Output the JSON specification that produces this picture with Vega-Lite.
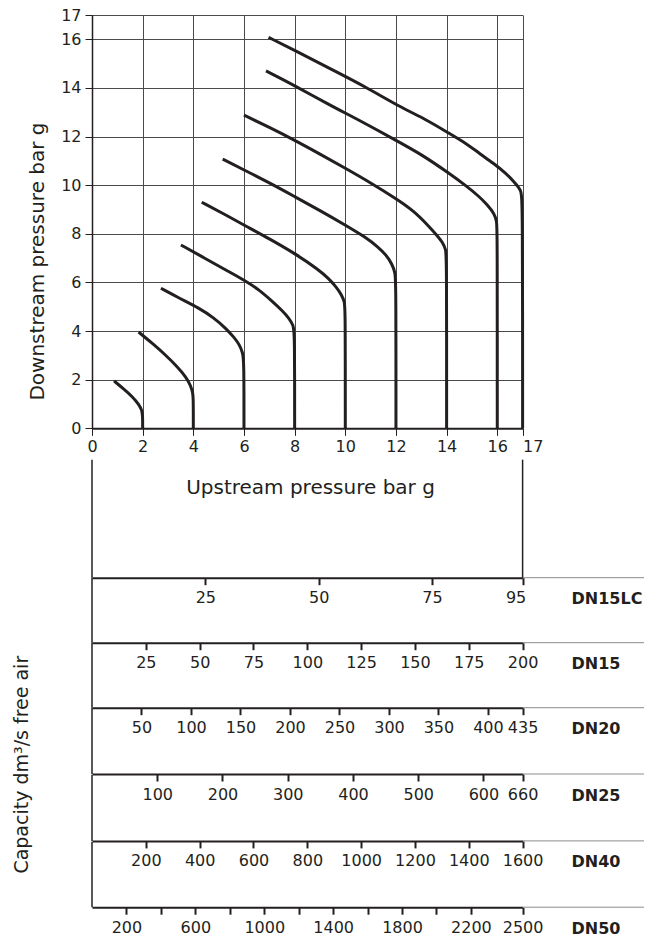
{
  "$schema": "https://vega.github.io/schema/vega-lite/v6.json",
  "padding": {"left": 13, "top": 7, "right": 5, "bottom": 5},
  "background": "white",
  "datasets": {
    "curves": [
      {"curve": 2, "up": 0.87, "down": 1.95}, {"curve": 2, "up": 1.25, "down": 1.62}, {"curve": 2, "up": 1.6, "down": 1.3}, {"curve": 2, "up": 1.85, "down": 0.98}, {"curve": 2, "up": 1.97, "down": 0.75}, {"curve": 2, "up": 2, "down": 0.5}, {"curve": 2, "up": 2, "down": 0},
      {"curve": 4, "up": 1.84, "down": 3.96}, {"curve": 4, "up": 2.4, "down": 3.48}, {"curve": 4, "up": 2.92, "down": 3.0}, {"curve": 4, "up": 3.35, "down": 2.55}, {"curve": 4, "up": 3.71, "down": 2.12}, {"curve": 4, "up": 3.9, "down": 1.75}, {"curve": 4, "up": 3.98, "down": 1.45}, {"curve": 4, "up": 4, "down": 1.2}, {"curve": 4, "up": 4, "down": 0},
      {"curve": 6, "up": 2.72, "down": 5.76}, {"curve": 6, "up": 3.45, "down": 5.35}, {"curve": 6, "up": 4.24, "down": 4.94}, {"curve": 6, "up": 4.8, "down": 4.55}, {"curve": 6, "up": 5.29, "down": 4.11}, {"curve": 6, "up": 5.6, "down": 3.75}, {"curve": 6, "up": 5.82, "down": 3.45}, {"curve": 6, "up": 5.95, "down": 3.1}, {"curve": 6, "up": 6, "down": 2.8}, {"curve": 6, "up": 6, "down": 0},
      {"curve": 8, "up": 3.51, "down": 7.54}, {"curve": 8, "up": 4.5, "down": 6.97}, {"curve": 8, "up": 5.3, "down": 6.5}, {"curve": 8, "up": 6, "down": 6.1}, {"curve": 8, "up": 6.6, "down": 5.7}, {"curve": 8, "up": 7.13, "down": 5.21}, {"curve": 8, "up": 7.5, "down": 4.85}, {"curve": 8, "up": 7.79, "down": 4.52}, {"curve": 8, "up": 7.95, "down": 4.22}, {"curve": 8, "up": 8, "down": 3.95}, {"curve": 8, "up": 8, "down": 0},
      {"curve": 10, "up": 4.33, "down": 9.3}, {"curve": 10, "up": 5.2, "down": 8.82}, {"curve": 10, "up": 6, "down": 8.36}, {"curve": 10, "up": 7, "down": 7.8}, {"curve": 10, "up": 8, "down": 7.2}, {"curve": 10, "up": 8.97, "down": 6.51}, {"curve": 10, "up": 9.35, "down": 6.15}, {"curve": 10, "up": 9.63, "down": 5.83}, {"curve": 10, "up": 9.85, "down": 5.5}, {"curve": 10, "up": 9.97, "down": 5.2}, {"curve": 10, "up": 10, "down": 4.9}, {"curve": 10, "up": 10, "down": 0},
      {"curve": 12, "up": 5.16, "down": 11.07}, {"curve": 12, "up": 6, "down": 10.63}, {"curve": 12, "up": 7, "down": 10.1}, {"curve": 12, "up": 8, "down": 9.53}, {"curve": 12, "up": 9, "down": 8.96}, {"curve": 12, "up": 10, "down": 8.36}, {"curve": 12, "up": 10.82, "down": 7.85}, {"curve": 12, "up": 11.3, "down": 7.45}, {"curve": 12, "up": 11.6, "down": 7.15}, {"curve": 12, "up": 11.85, "down": 6.75}, {"curve": 12, "up": 11.97, "down": 6.4}, {"curve": 12, "up": 12, "down": 6.0}, {"curve": 12, "up": 12, "down": 0},
      {"curve": 14, "up": 6.0, "down": 12.88}, {"curve": 14, "up": 7, "down": 12.38}, {"curve": 14, "up": 8, "down": 11.85}, {"curve": 14, "up": 9, "down": 11.28}, {"curve": 14, "up": 10, "down": 10.7}, {"curve": 14, "up": 11, "down": 10.1}, {"curve": 14, "up": 12, "down": 9.45}, {"curve": 14, "up": 12.7, "down": 8.95}, {"curve": 14, "up": 13.32, "down": 8.29}, {"curve": 14, "up": 13.65, "down": 7.9}, {"curve": 14, "up": 13.84, "down": 7.65}, {"curve": 14, "up": 13.97, "down": 7.35}, {"curve": 14, "up": 14, "down": 7.05}, {"curve": 14, "up": 14, "down": 0},
      {"curve": 16, "up": 6.87, "down": 14.7}, {"curve": 16, "up": 8, "down": 14.1}, {"curve": 16, "up": 9.37, "down": 13.3}, {"curve": 16, "up": 10.5, "down": 12.7}, {"curve": 16, "up": 12.1, "down": 11.79}, {"curve": 16, "up": 13, "down": 11.27}, {"curve": 16, "up": 14.1, "down": 10.49}, {"curve": 16, "up": 14.8, "down": 9.95}, {"curve": 16, "up": 15.29, "down": 9.53}, {"curve": 16, "up": 15.6, "down": 9.2}, {"curve": 16, "up": 15.88, "down": 8.84}, {"curve": 16, "up": 15.98, "down": 8.5}, {"curve": 16, "up": 16, "down": 8.2}, {"curve": 16, "up": 16, "down": 0},
      {"curve": 17, "up": 6.97, "down": 16.08}, {"curve": 17, "up": 8, "down": 15.55}, {"curve": 17, "up": 9.37, "down": 14.81}, {"curve": 17, "up": 10.8, "down": 14.05}, {"curve": 17, "up": 12.13, "down": 13.23}, {"curve": 17, "up": 13.2, "down": 12.7}, {"curve": 17, "up": 14.1, "down": 12.13}, {"curve": 17, "up": 14.8, "down": 11.7}, {"curve": 17, "up": 15.29, "down": 11.31}, {"curve": 17, "up": 15.85, "down": 10.9}, {"curve": 17, "up": 16.34, "down": 10.49}, {"curve": 17, "up": 16.7, "down": 10.1}, {"curve": 17, "up": 16.94, "down": 9.8}, {"curve": 17, "up": 17, "down": 9.4}, {"curve": 17, "up": 17, "down": 0}
    ]
  },
  "vconcat": [
    {
      "width": 430.6,
      "height": 413.3,
      "data": {"name": "curves"},
      "mark": {"type": "line", "interpolate": "basis", "strokeWidth": 3, "color": "#231f20", "strokeCap": "butt", "strokeJoin": "round"},
      "encoding": {
        "x": {
          "field": "up", "type": "quantitative",
          "scale": {"domain": [0, 17], "nice": false},
          "axis": {
            "values": [0, 2, 4, 6, 8, 10, 12, 14, 16, 17],
            "grid": true, "gridColor": "#4a4a4a", "gridWidth": 1,
            "domainWidth": 2, "tickSize": 7, "tickWidth": 1, "labelPadding": 3,
            "labelAlign": {"condition": {"test": "datum.value === 17", "value": "left"}, "value": "center"},
            "title": "Upstream pressure bar g", "titleFontSize": 20, "titleFontWeight": "normal",
            "titleX": 218, "titleY": 65, "titleAlign": "center", "titleBaseline": "alphabetic"
          }
        },
        "y": {
          "field": "down", "type": "quantitative",
          "scale": {"domain": [0, 17], "nice": false},
          "axis": {
            "values": [0, 2, 4, 6, 8, 10, 12, 14, 16, 17],
            "grid": true, "gridColor": "#4a4a4a", "gridWidth": 1,
            "domainWidth": 1.5, "tickSize": 7, "tickWidth": 1, "labelPadding": 4,
            "title": "Downstream pressure bar g", "titleFontSize": 20, "titleFontWeight": "normal",
            "titleX": -49, "titleY": 246, "titleAngle": 270, "titleAlign": "center", "titleBaseline": "alphabetic"
          }
        },
        "detail": {"field": "curve"},
        "order": {"value": null}
      }
    },
    {
      "spacing": 0,
      "bounds": "flush",
      "title": {"text": "Capacity dm³/s free air", "orient": "left", "anchor": "middle", "frame": "group", "offset": 40, "dx": -305, "font": "DejaVu Sans", "fontSize": 19, "fontWeight": "normal", "color": "#231f20", "baseline": "bottom"},
      "vconcat": [
        {
          "width": 552, "height": 118,
          "data": {"values": [{"size": "DN15LC", "max": 95}]},
          "layer": [
            {"mark": {"type": "rule", "color": "#231f20", "strokeWidth": 1.5},
             "encoding": {"x": {"datum": 0, "type": "quantitative", "scale": {"domain": [0, 95], "range": [0, 430.6], "nice": false},
               "axis": {"values": [25, 50, 75, 95], "title": "DN15LC", "labelOffset": {"condition": {"test": "datum.value === 95", "value": -7}, "value": 0}}}}},
            {"mark": {"type": "rule", "color": "#8c8c8c", "strokeWidth": 1},
             "encoding": {"x": {"field": "max", "type": "quantitative"}, "x2": {"value": "width"}, "y": {"value": "height"}}},
            {"mark": {"type": "rule", "color": "#231f20", "strokeWidth": 1.5},
             "encoding": {"x": {"field": "max", "type": "quantitative"}}}
          ]
        },
        {
          "width": 552, "height": 65,
          "data": {"values": [{"size": "DN15", "max": 200}]},
          "layer": [
            {"mark": {"type": "rule", "color": "#231f20", "strokeWidth": 1.5},
             "encoding": {"x": {"datum": 0, "type": "quantitative", "scale": {"domain": [0, 200], "range": [0, 430.6], "nice": false},
               "axis": {"values": [25, 50, 75, 100, 125, 150, 175, 200], "title": "DN15"}}}},
            {"mark": {"type": "rule", "color": "#8c8c8c", "strokeWidth": 1},
             "encoding": {"x": {"field": "max", "type": "quantitative"}, "x2": {"value": "width"}, "y": {"value": "height"}}}
          ]
        },
        {
          "width": 552, "height": 65,
          "data": {"values": [{"size": "DN20", "max": 435}]},
          "layer": [
            {"mark": {"type": "rule", "color": "#231f20", "strokeWidth": 1.5},
             "encoding": {"x": {"datum": 0, "type": "quantitative", "scale": {"domain": [0, 435], "range": [0, 430.6], "nice": false},
               "axis": {"values": [50, 100, 150, 200, 250, 300, 350, 400, 435], "title": "DN20"}}}},
            {"mark": {"type": "rule", "color": "#8c8c8c", "strokeWidth": 1},
             "encoding": {"x": {"field": "max", "type": "quantitative"}, "x2": {"value": "width"}, "y": {"value": "height"}}}
          ]
        },
        {
          "width": 552, "height": 66.3,
          "data": {"values": [{"size": "DN25", "max": 660}]},
          "layer": [
            {"mark": {"type": "rule", "color": "#231f20", "strokeWidth": 1.5},
             "encoding": {"x": {"datum": 0, "type": "quantitative", "scale": {"domain": [0, 660], "range": [0, 430.6], "nice": false},
               "axis": {"values": [100, 200, 300, 400, 500, 600, 660], "title": "DN25"}}}},
            {"mark": {"type": "rule", "color": "#8c8c8c", "strokeWidth": 1},
             "encoding": {"x": {"field": "max", "type": "quantitative"}, "x2": {"value": "width"}, "y": {"value": "height"}}}
          ]
        },
        {
          "width": 552, "height": 66.2,
          "data": {"values": [{"size": "DN40", "max": 1600}]},
          "layer": [
            {"mark": {"type": "rule", "color": "#231f20", "strokeWidth": 1.5},
             "encoding": {"x": {"datum": 0, "type": "quantitative", "scale": {"domain": [0, 1600], "range": [0, 430.6], "nice": false},
               "axis": {"values": [200, 400, 600, 800, 1000, 1200, 1400, 1600], "title": "DN40"}}}},
            {"mark": {"type": "rule", "color": "#8c8c8c", "strokeWidth": 1},
             "encoding": {"x": {"field": "max", "type": "quantitative"}, "x2": {"value": "width"}, "y": {"value": "height"}}}
          ]
        },
        {
          "width": 552, "height": 65.5,
          "data": {"values": [{"size": "DN50", "max": 2500}]},
          "layer": [
            {"mark": {"type": "rule", "color": "#231f20", "strokeWidth": 1.5},
             "encoding": {"x": {"datum": 0, "type": "quantitative", "scale": {"domain": [0, 2500], "range": [0, 430.6], "nice": false},
               "axis": {"values": [200, 400, 600, 800, 1000, 1200, 1400, 1600, 1800, 2000, 2200, 2500], "title": "DN50",
                 "labelExpr": "indexof([400, 800, 1200, 1600, 2000], datum.value) >= 0 ? '' : datum.label"}}}},
            {"mark": {"type": "rule", "color": "#8c8c8c", "strokeWidth": 1},
             "encoding": {"x": {"field": "max", "type": "quantitative"}, "x2": {"value": "width"}, "y": {"value": "height"}}}
          ]
        }
      ]
    }
  ],
  "spacing": 30.7,
  "bounds": "flush",
  "config": {
    "view": {"stroke": null},
    "font": "DejaVu Sans",
    "axis": {
      "labelFont": "DejaVu Sans", "labelFontSize": 16, "labelColor": "#231f20",
      "titleFont": "DejaVu Sans", "titleColor": "#231f20", "titleFontWeight": "normal",
      "domainColor": "#231f20", "tickColor": "#231f20",
      "labelOverlap": false, "labelFlush": false, "grid": false, "format": "d"
    },
    "axisX": {"tickSize": 7, "tickWidth": 2, "domainWidth": 2, "labelPadding": 5,
      "titleFontSize": 16, "titleFontWeight": "bold", "titleX": 479, "titleY": 21, "titleAlign": "left", "titleBaseline": "middle", "titleAngle": 0}
  }
}
